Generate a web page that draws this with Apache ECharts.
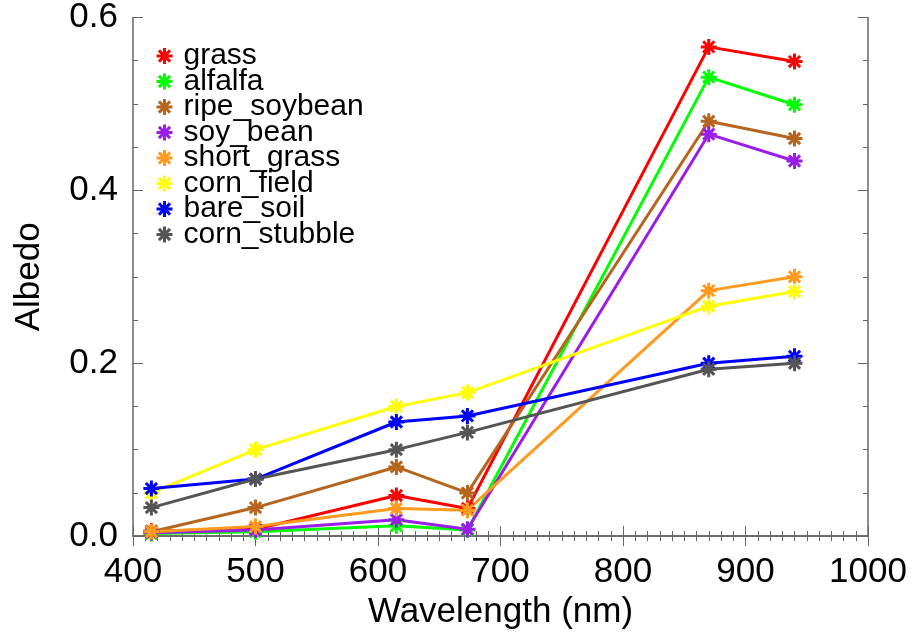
<!DOCTYPE html>
<html>
<head>
<meta charset="utf-8">
<script src="https://cdn.jsdelivr.net/npm/echarts@6/dist/echarts.min.js"></script>
<style>
  html, body { margin: 0; padding: 0; background: #fff; }
  #chart { width: 914px; height: 635px; }
</style>
</head>
<body>
<div id="chart"></div>
<script>
// MFRSR channel wavelengths (nm)
const wavelengths = [415, 500, 615, 673, 870, 940];

const grass = [0.006, 0.008, 0.047, 0.032, 0.566, 0.549];
const alfalfa = [0.003, 0.005, 0.012, 0.007, 0.531, 0.499];
const ripeSoybean = [0.005, 0.033, 0.080, 0.050, 0.480, 0.460];
const soyBean = [0.004, 0.007, 0.019, 0.008, 0.465, 0.434];
const shortGrass = [0.005, 0.011, 0.032, 0.030, 0.284, 0.300];
const cornField = [0.050, 0.100, 0.150, 0.166, 0.266, 0.283];
const bareSoil = [0.055, 0.066, 0.132, 0.139, 0.200, 0.208];
const cornStubble = [0.033, 0.066, 0.100, 0.120, 0.193, 0.200];

const names = ["grass", "alfalfa", "ripe_soybean", "soy_bean", "short_grass", "corn_field", "bare_soil", "corn_stubble"];
const values = [grass, alfalfa, ripeSoybean, soyBean, shortGrass, cornField, bareSoil, cornStubble];
const colors = ["#ff0000", "#00ff00", "#b5651d", "#9a1ee8", "#ff9a1f", "#ffff00", "#0000ff", "#555555"];

const xTicks = [400, 500, 600, 700, 800, 900, 1000];
const yTicks = [0.0, 0.2, 0.4, 0.6];

// asterisk marker (IDL psym=2 style)
const star = "path://M10,0L10,20M0,10L20,10M3,3L17,17M3,17L17,3";
const font = "'Liberation Sans', Arial, sans-serif";
const axisColor = "#666";

const chart = echarts.init(document.getElementById("chart"));

const series = names.map((name, i) => ({
  name,
  type: "line",
  xAxisIndex: 0,
  yAxisIndex: 0,
  data: wavelengths.map((w, j) => [w, values[i][j]]),
  symbol: star,
  symbolSize: 16,
  lineStyle: { color: colors[i], width: 3 },
  itemStyle: { color: colors[i], borderColor: colors[i], borderWidth: 3 },
  emphasis: { disabled: true },
}));

const tickStyle = { show: true, inside: true, length: 10, lineStyle: { color: axisColor, width: 1 } };
const minorStyle = (n) => ({ show: true, splitNumber: n, length: 5, lineStyle: { color: axisColor, width: 1 } });

chart.setOption({
  animation: false,
  textStyle: { fontFamily: font },
  grid: { left: 133, right: 46, top: 14, bottom: 95 },
  legend: {
    orient: "vertical",
    left: 150,
    top: 36,
    icon: star,
    itemWidth: 16,
    itemHeight: 16,
    itemGap: -4.5,
    itemStyle: { borderWidth: 3 },
    textStyle: { fontSize: 30, color: "#000", fontFamily: font, padding: [0, 0, 0, 6] },
    data: names,
  },
  xAxis: [
    {
      type: "value",
      min: xTicks[0],
      max: xTicks[xTicks.length - 1],
      interval: 100,
      name: "Wavelength (nm)",
      nameLocation: "middle",
      nameGap: 52,
      nameTextStyle: { fontSize: 35, color: "#000" },
      axisLine: { lineStyle: { color: axisColor, width: 1.5 } },
      axisTick: tickStyle,
      minorTick: minorStyle(10),
      axisLabel: { fontSize: 35, color: "#000", margin: 19, formatter: (v) => String(v) },
      splitLine: { show: false },
    },
    {
      type: "value",
      position: "top",
      min: xTicks[0],
      max: xTicks[xTicks.length - 1],
      interval: 100,
      axisLine: { show: true, lineStyle: { color: axisColor, width: 1.5 } },
      axisTick: tickStyle,
      minorTick: minorStyle(10),
      axisLabel: { show: false },
      splitLine: { show: false },
    },
  ],
  yAxis: [
    {
      type: "value",
      min: yTicks[0],
      max: yTicks[yTicks.length - 1],
      interval: 0.2,
      name: "Albedo",
      nameLocation: "middle",
      nameGap: 86,
      nameTextStyle: { fontSize: 35, color: "#000" },
      axisLine: { show: true, lineStyle: { color: axisColor, width: 1.5 } },
      axisTick: tickStyle,
      minorTick: minorStyle(4),
      axisLabel: { fontSize: 35, color: "#000", margin: 15, formatter: (v) => v.toFixed(1) },
      splitLine: { show: false },
    },
    {
      type: "value",
      position: "right",
      min: yTicks[0],
      max: yTicks[yTicks.length - 1],
      interval: 0.2,
      axisLine: { show: true, lineStyle: { color: axisColor, width: 1.5 } },
      axisTick: tickStyle,
      minorTick: minorStyle(4),
      axisLabel: { show: false },
      splitLine: { show: false },
    },
  ],
  series,
});
</script>
</body>
</html>
